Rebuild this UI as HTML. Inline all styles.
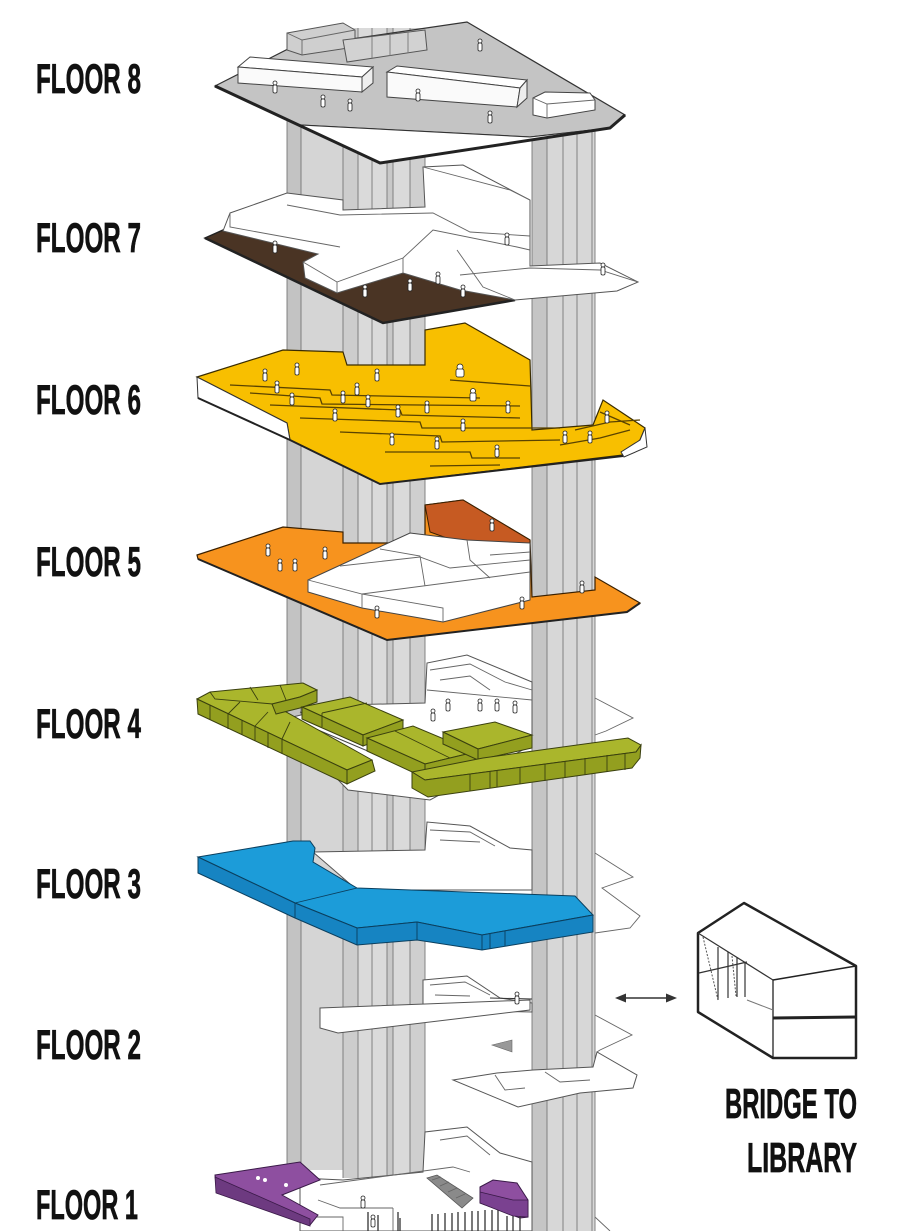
<!DOCTYPE html>
<html><head><meta charset="utf-8"><style>
html,body{margin:0;padding:0;background:#fff;}
svg{display:block}
.lbl{font-family:"Liberation Sans Narrow","Liberation Sans",sans-serif;font-weight:700;font-size:42px;fill:#111;stroke:#111;stroke-width:.7}
.p circle,.p rect{fill:#fff;stroke:#222;stroke-width:.8}
.ln{fill:none;stroke:#666;stroke-width:.9}
.pl{fill:#fff;stroke:#555;stroke-width:1}
.cl{stroke:#777;stroke-width:.9}
.yl{fill:none;stroke:#5a4300;stroke-width:1.3}
.gt{fill:#aab62c;stroke:#3a400f;stroke-width:1}
.gf{fill:#939f1f;stroke:#3a400f;stroke-width:1}
.gd{stroke:#3a400f;stroke-width:.9}
</style></head><body>
<svg width="899" height="1231" viewBox="0 0 899 1231" xmlns="http://www.w3.org/2000/svg">
<rect width="899" height="1231" fill="#fff"/>

<!-- back plates -->
<polyline class="ln" points="595,698 633,718 606,731 595,735"/>
<polyline class="ln" points="595,853 633,877 602,888 640,916 630,928 595,933"/>
<polyline class="ln" points="595,1015 632,1035 600,1050 597,1052"/>
<polyline class="ln" points="595,1217 610,1231"/>

<!-- columns -->
<rect x="287" y="118" width="56" height="1052" fill="#d5d5d5"/>
<rect x="287" y="118" width="14" height="1052" fill="#c3c3c3"/>
<line class="cl" x1="287" y1="118" x2="287" y2="1170"/>
<line class="cl" x1="301" y1="118" x2="301" y2="1170"/>
<rect x="343" y="28" width="82" height="1150" fill="#dadada"/>
<rect x="343" y="28" width="15" height="1150" fill="#cdcdcd"/>
<rect x="387" y="28" width="6" height="1150" fill="#c8c8c8"/>
<rect x="410" y="28" width="15" height="1150" fill="#cfcfcf"/>
<line class="cl" x1="343" y1="28" x2="343" y2="1178"/>
<line class="cl" x1="358" y1="28" x2="358" y2="1178"/>
<line class="cl" x1="372" y1="28" x2="372" y2="1178"/>
<line class="cl" x1="387" y1="28" x2="387" y2="1178"/>
<line class="cl" x1="393" y1="28" x2="393" y2="1178"/>
<line class="cl" x1="410" y1="28" x2="410" y2="1178"/>
<line class="cl" x1="425" y1="28" x2="425" y2="1178"/>
<rect x="532" y="125" width="63" height="1106" fill="#d7d7d7"/>
<rect x="532" y="125" width="15" height="1106" fill="#c5c5c5"/>
<line class="cl" x1="532" y1="125" x2="532" y2="1231"/>
<line class="cl" x1="547" y1="125" x2="547" y2="1231"/>
<line class="cl" x1="563" y1="125" x2="563" y2="1231"/>
<line class="cl" x1="577" y1="125" x2="577" y2="1231"/>
<line class="cl" x1="592" y1="125" x2="592" y2="1231"/>
<line class="cl" x1="595" y1="125" x2="595" y2="1231"/>

<!-- FLOOR 8 -->
<polygon points="215,86 290,48 467,22 625,115 610,128 530,137 300,125" fill="#c4c4c4" stroke="#333" stroke-width="1.2"/>
<polygon points="300,125 530,137 610,128 380,163" fill="#fff" stroke="#333" stroke-width="1"/>
<polyline points="215,86 380,163 610,128 625,115" fill="none" stroke="#222" stroke-width="3"/>
<polygon points="287,33 343,23 355,30 355,47 302,55 287,50" fill="#cfcfcf" stroke="#555"/>
<polyline class="ln" points="287,33 302,40 355,30"/><line class="ln" x1="302" y1="40" x2="302" y2="55"/>
<polygon points="343,40 425,30 427,50 347,62" fill="#d2d2d2" stroke="#555"/>
<line class="cl" x1="372" y1="37" x2="372" y2="58"/><line class="cl" x1="390" y1="35" x2="390" y2="56"/><line class="cl" x1="408" y1="32" x2="408" y2="53"/>
<polygon points="238,67 250,57 373,67 362,77" fill="#fff" stroke="#444"/>
<polygon points="238,67 362,77 362,92 238,83" fill="#fafafa" stroke="#444"/>
<polygon points="362,77 373,67 373,83 362,92" fill="#eee" stroke="#444"/>
<polygon points="387,72 397,66 527,80 520,88" fill="#fff" stroke="#444"/>
<polygon points="387,72 520,88 517,107 387,97" fill="#fafafa" stroke="#444"/>
<polygon points="520,88 527,80 527,98 517,107" fill="#eee" stroke="#444"/>
<polygon points="533,98 545,92 590,93 595,100 595,110 547,118 533,115" fill="#fff" stroke="#444"/>
<polyline class="ln" points="533,98 547,104 595,100"/><line class="ln" x1="547" y1="104" x2="547" y2="118"/>
<g class="p" transform="translate(275,92)"><circle cy="-9" r="2"/><rect x="-2" y="-7" width="4" height="8" rx="1.5"/></g>
<g class="p" transform="translate(323,106)"><circle cy="-9" r="2"/><rect x="-2" y="-7" width="4" height="8" rx="1.5"/></g>
<g class="p" transform="translate(350,110)"><circle cy="-9" r="2"/><rect x="-2" y="-7" width="4" height="8" rx="1.5"/></g>
<g class="p" transform="translate(418,100)"><circle cy="-9" r="2"/><rect x="-2" y="-7" width="4" height="8" rx="1.5"/></g>
<g class="p" transform="translate(490,122)"><circle cy="-9" r="2"/><rect x="-2" y="-7" width="4" height="8" rx="1.5"/></g>
<g class="p" transform="translate(480,50)"><circle cy="-9" r="2"/><rect x="-2" y="-7" width="4" height="8" rx="1.5"/></g>

<!-- FLOOR 7 -->
<polygon points="205,238 223,230 318,253 402,262 515,300 383,323" fill="#4a3424" stroke="#222" stroke-width="1.5"/>
<polyline points="205,238 383,323 515,300" fill="none" stroke="#222" stroke-width="2.5"/>
<polygon points="230,213 287,193 343,200 343,210 425,207 423,167 463,165 530,200 530,266 600,263 638,282 617,291 515,300 460,290 403,273 337,293 305,278 303,262 318,254 223,231" fill="#fff" stroke="#555" stroke-width="1"/>
<polyline class="ln" points="230,213 230,227 340,247"/>
<polyline class="ln" points="287,205 340,215 433,213 470,232 530,236"/>
<polyline class="ln" points="303,262 337,282 403,258 433,230 517,247 530,250"/>
<line class="ln" x1="337" y1="282" x2="337" y2="293"/>
<line class="ln" x1="403" y1="258" x2="403" y2="273"/>
<polyline class="ln" points="457,250 483,287 515,300"/>
<polyline class="ln" points="423,167 510,190 530,200"/>
<polyline class="ln" points="460,275 530,268 600,270 638,282"/>
<g class="p" transform="translate(275,252)"><circle cy="-9" r="2"/><rect x="-2" y="-7" width="4" height="8" rx="1.5"/></g>
<g class="p" transform="translate(365,296)"><circle cy="-9" r="2"/><rect x="-2" y="-7" width="4" height="8" rx="1.5"/></g>
<g class="p" transform="translate(410,290)"><circle cy="-9" r="2"/><rect x="-2" y="-7" width="4" height="8" rx="1.5"/></g>
<g class="p" transform="translate(438,283)"><circle cy="-9" r="2"/><rect x="-2" y="-7" width="4" height="8" rx="1.5"/></g>
<g class="p" transform="translate(463,296)"><circle cy="-9" r="2"/><rect x="-2" y="-7" width="4" height="8" rx="1.5"/></g>
<g class="p" transform="translate(507,244)"><circle cy="-9" r="2"/><rect x="-2" y="-7" width="4" height="8" rx="1.5"/></g>
<g class="p" transform="translate(603,274)"><circle cy="-9" r="2"/><rect x="-2" y="-7" width="4" height="8" rx="1.5"/></g>

<!-- FLOOR 6 -->
<polygon points="197,377 283,350 343,352 347,365 425,365 425,330 465,323 530,360 532,430 593,425 603,400 645,428 640,440 623,455 380,484 290,440 287,423" fill="#f8bf00" stroke="#3a2c00" stroke-width="1.2"/>
<polygon points="197,377 287,423 290,440 198,398" fill="#fff" stroke="#333" stroke-width="1"/>
<polygon points="645,428 647,447 624,457 621,452 640,440" fill="#fff" stroke="#333" stroke-width="1"/>
<polyline points="198,398 290,440 380,484 623,456" fill="none" stroke="#222" stroke-width="2"/>
<polyline class="yl" points="230,385 330,390 332,395 480,398"/>
<polyline class="yl" points="250,393 320,398 322,404 520,406"/>
<polyline class="yl" points="270,405 400,410 402,415 520,418"/>
<polyline class="yl" points="300,418 420,422 422,428 560,428"/>
<polyline class="yl" points="340,432 440,436 442,442 560,440"/>
<polyline class="yl" points="385,452 470,452 472,458 520,458"/>
<polyline class="yl" points="430,466 500,465"/>
<polyline class="yl" points="450,380 530,386"/>
<polyline class="yl" points="560,445 600,438 630,430"/>
<polyline class="yl" points="575,430 610,422 640,420"/>
<polyline class="yl" points="600,412 630,425"/>
<g class="p" transform="translate(265,380)"><circle cy="-9" r="2"/><rect x="-2" y="-7" width="4" height="8" rx="1.5"/></g>
<g class="p" transform="translate(277,392)"><circle cy="-9" r="2"/><rect x="-2" y="-7" width="4" height="8" rx="1.5"/></g>
<g class="p" transform="translate(297,374)"><circle cy="-9" r="2"/><rect x="-2" y="-7" width="4" height="8" rx="1.5"/></g>
<g class="p" transform="translate(292,404)"><circle cy="-9" r="2"/><rect x="-2" y="-7" width="4" height="8" rx="1.5"/></g>
<g class="p" transform="translate(335,420)"><circle cy="-9" r="2"/><rect x="-2" y="-7" width="4" height="8" rx="1.5"/></g>
<g class="p" transform="translate(357,394)"><circle cy="-9" r="2"/><rect x="-2" y="-7" width="4" height="8" rx="1.5"/></g>
<g class="p" transform="translate(368,406)"><circle cy="-9" r="2"/><rect x="-2" y="-7" width="4" height="8" rx="1.5"/></g>
<g class="p" transform="translate(343,402)"><circle cy="-9" r="2"/><rect x="-2" y="-7" width="4" height="8" rx="1.5"/></g>
<g class="p" transform="translate(377,380)"><circle cy="-9" r="2"/><rect x="-2" y="-7" width="4" height="8" rx="1.5"/></g>
<g class="p" transform="translate(398,416)"><circle cy="-9" r="2"/><rect x="-2" y="-7" width="4" height="8" rx="1.5"/></g>
<g class="p" transform="translate(427,412)"><circle cy="-9" r="2"/><rect x="-2" y="-7" width="4" height="8" rx="1.5"/></g>
<g class="p" transform="translate(460,376)"><circle cy="-9" r="3"/><rect x="-4" y="-7" width="8" height="8" rx="2"/></g>
<g class="p" transform="translate(473,400)"><circle cy="-9" r="2.5"/><rect x="-3" y="-7" width="6" height="8" rx="1.5"/></g>
<g class="p" transform="translate(463,430)"><circle cy="-9" r="2"/><rect x="-2" y="-7" width="4" height="8" rx="1.5"/></g>
<g class="p" transform="translate(392,444)"><circle cy="-9" r="2"/><rect x="-2" y="-7" width="4" height="8" rx="1.5"/></g>
<g class="p" transform="translate(437,448)"><circle cy="-9" r="2"/><rect x="-2" y="-7" width="4" height="8" rx="1.5"/></g>
<g class="p" transform="translate(497,456)"><circle cy="-9" r="2"/><rect x="-2" y="-7" width="4" height="8" rx="1.5"/></g>
<g class="p" transform="translate(508,412)"><circle cy="-9" r="2"/><rect x="-2" y="-7" width="4" height="8" rx="1.5"/></g>
<g class="p" transform="translate(565,442)"><circle cy="-9" r="2"/><rect x="-2" y="-7" width="4" height="8" rx="1.5"/></g>
<g class="p" transform="translate(590,442)"><circle cy="-9" r="2"/><rect x="-2" y="-7" width="4" height="8" rx="1.5"/></g>
<g class="p" transform="translate(607,422)"><circle cy="-9" r="2"/><rect x="-2" y="-7" width="4" height="8" rx="1.5"/></g>

<!-- FLOOR 5 -->
<polygon points="197,555 283,527 343,532 343,543 425,543 425,505 463,500 530,540 532,597 595,590 595,577 640,603 627,612 387,640 198,559" fill="#f7931e" stroke="#3a2000" stroke-width="1.2"/>
<polyline points="198,559 387,640 627,612 640,603" fill="none" stroke="#222" stroke-width="2"/>
<polygon points="425,505 463,500 530,540 530,546 500,557 430,532" fill="#c65a22" stroke="#3a2000" stroke-width="1"/>
<polygon points="308,580 410,533 467,540 530,543 530,600 443,622 362,608 308,592" fill="#fff" stroke="#444" stroke-width="1"/>
<polyline class="ln" points="308,580 362,594 530,572"/>
<line class="ln" x1="362" y1="594" x2="362" y2="608"/>
<polyline class="ln" points="362,594 443,608 443,622"/>
<polyline class="ln" points="340,566 420,557 450,568 530,560"/>
<polyline class="ln" points="380,549 420,556 425,586"/>
<polyline class="ln" points="467,540 470,560 490,578"/>
<polyline class="ln" points="490,555 530,552"/>
<g class="p" transform="translate(268,555)"><circle cy="-9" r="2"/><rect x="-2" y="-7" width="4" height="8" rx="1.5"/></g>
<g class="p" transform="translate(280,570)"><circle cy="-9" r="2"/><rect x="-2" y="-7" width="4" height="8" rx="1.5"/></g>
<g class="p" transform="translate(295,570)"><circle cy="-9" r="2"/><rect x="-2" y="-7" width="4" height="8" rx="1.5"/></g>
<g class="p" transform="translate(325,558)"><circle cy="-9" r="2"/><rect x="-2" y="-7" width="4" height="8" rx="1.5"/></g>
<g class="p" transform="translate(492,530)"><circle cy="-9" r="2"/><rect x="-2" y="-7" width="4" height="8" rx="1.5"/></g>
<g class="p" transform="translate(377,617)"><circle cy="-9" r="2"/><rect x="-2" y="-7" width="4" height="8" rx="1.5"/></g>
<g class="p" transform="translate(522,608)"><circle cy="-9" r="2"/><rect x="-2" y="-7" width="4" height="8" rx="1.5"/></g>
<g class="p" transform="translate(582,592)"><circle cy="-9" r="2"/><rect x="-2" y="-7" width="4" height="8" rx="1.5"/></g>

<!-- FLOOR 4 -->
<polygon class="pl" points="280,720 343,705 425,703 427,663 467,655 532,682 532,745 430,800 348,790"/>
<polyline class="ln" points="430,670 470,664 505,682 532,690"/>
<polyline class="ln" points="440,680 470,676 490,690"/>
<polyline class="ln" points="427,690 532,700"/>
<polyline points="285,716 370,752 395,760" fill="none" stroke="#444" stroke-width="1"/>
<polyline points="300,712 380,745" fill="none" stroke="#444" stroke-width="1"/>
<g class="p" transform="translate(433,720)"><circle cy="-9" r="2"/><rect x="-2" y="-7" width="4" height="8" rx="1.5"/></g>
<g class="p" transform="translate(448,710)"><circle cy="-9" r="2"/><rect x="-2" y="-7" width="4" height="8" rx="1.5"/></g>
<g class="p" transform="translate(480,710)"><circle cy="-9" r="2"/><rect x="-2" y="-7" width="4" height="8" rx="1.5"/></g>
<g class="p" transform="translate(497,710)"><circle cy="-9" r="2"/><rect x="-2" y="-7" width="4" height="8" rx="1.5"/></g>
<g class="p" transform="translate(515,712)"><circle cy="-9" r="2"/><rect x="-2" y="-7" width="4" height="8" rx="1.5"/></g>
<!-- green L -->
<polygon class="gt" points="197,699 210,692 303,683 317,690 300,697 272,704 372,760 347,770"/>
<polygon class="gf" points="272,704 300,697 317,690 317,702 300,708 276,714"/>
<polygon class="gf" points="197,699 347,770 347,784 198,714"/>
<polygon class="gf" points="347,770 372,760 375,771 347,784"/>
<polyline class="gd" points="210,692 215,699 273,704" fill="none"/>
<line class="gd" x1="250" y1="687" x2="258" y2="700"/>
<line class="gd" x1="280" y1="685" x2="286" y2="700"/>
<line class="gd" x1="210" y1="705" x2="210" y2="720"/>
<line class="gd" x1="228" y1="714" x2="228" y2="729"/>
<line class="gd" x1="242" y1="720" x2="242" y2="735"/>
<line class="gd" x1="255" y1="726" x2="255" y2="741"/>
<line class="gd" x1="268" y1="733" x2="268" y2="748"/>
<line class="gd" x1="282" y1="739" x2="282" y2="754"/>
<line class="gd" x1="228" y1="714" x2="240" y2="702"/>
<line class="gd" x1="255" y1="726" x2="268" y2="712"/>
<line class="gd" x1="282" y1="739" x2="290" y2="722"/>
<!-- center blocks -->
<polygon class="gt" points="302,707 350,697 403,720 363,735"/>
<polygon class="gf" points="302,707 363,735 363,746 302,719"/>
<polygon class="gf" points="363,735 403,720 403,731 363,746"/>
<line class="gd" x1="322" y1="713" x2="367" y2="703"/>
<line class="gd" x1="322" y1="713" x2="322" y2="727"/>
<polygon class="gt" points="367,738 413,726 475,752 425,764"/>
<polygon class="gf" points="367,738 425,764 425,778 367,751"/>
<polygon class="gf" points="425,764 475,752 475,765 425,778"/>
<line class="gd" x1="395" y1="731" x2="450" y2="758"/>
<polygon class="gt" points="443,732 495,722 532,735 478,749"/>
<polygon class="gf" points="443,732 478,749 478,760 443,744"/>
<polygon class="gf" points="478,749 532,735 532,748 478,760"/>
<!-- right bar -->
<polygon class="gt" points="412,772 483,758 628,738 641,745 636,752 425,780"/>
<polygon class="gf" points="412,772 425,780 636,752 641,745 640,758 632,768 428,797 412,788"/>
<line class="gd" x1="470" y1="774" x2="470" y2="791"/>
<line class="gd" x1="490" y1="771" x2="490" y2="788"/>
<line class="gd" x1="497" y1="770" x2="497" y2="787"/>
<line class="gd" x1="520" y1="767" x2="520" y2="784"/>
<line class="gd" x1="545" y1="764" x2="545" y2="781"/>
<line class="gd" x1="565" y1="761" x2="565" y2="778"/>
<line class="gd" x1="585" y1="758" x2="585" y2="775"/>
<line class="gd" x1="607" y1="755" x2="607" y2="772"/>
<line class="gd" x1="625" y1="753" x2="625" y2="770"/>

<!-- FLOOR 3 -->
<polygon class="pl" points="313,852 425,850 427,822 470,826 510,848 532,850 532,890 357,890"/>
<polyline class="ln" points="430,830 470,832 495,846"/>
<polyline class="ln" points="440,840 480,842"/>
<polygon points="198,857 293,841 310,841 315,848 313,862 357,888 575,896 593,915 482,935 417,922 357,928 295,903" fill="#1c9cd9" stroke="#0b3f5e" stroke-width="1"/>
<polygon points="198,857 295,903 357,928 417,922 482,935 593,915 593,932 482,950 417,940 357,945 295,918 198,873" fill="#1684c2" stroke="#0b3f5e" stroke-width="1"/>
<line x1="357" y1="888" x2="295" y2="903" stroke="#0b3f5e" stroke-width=".9"/>
<line x1="295" y1="903" x2="295" y2="918" stroke="#0b3f5e" stroke-width=".9"/>
<line x1="357" y1="928" x2="357" y2="945" stroke="#0b3f5e" stroke-width=".9"/>
<line x1="417" y1="922" x2="417" y2="940" stroke="#0b3f5e" stroke-width=".9"/>
<line x1="482" y1="935" x2="482" y2="950" stroke="#0b3f5e" stroke-width=".9"/>
<line x1="490" y1="934" x2="490" y2="949" stroke="#0b3f5e" stroke-width=".9"/>
<line x1="505" y1="931" x2="505" y2="946" stroke="#0b3f5e" stroke-width=".9"/>

<!-- FLOOR 2 -->
<polygon class="pl" points="423,980 467,976 500,998 532,1003 532,1012 423,1010"/>
<polyline class="ln" points="430,985 465,982 490,995"/>
<polyline class="ln" points="435,995 470,996"/>
<polygon class="pl" points="320,1008 425,1004 530,1000 530,1010 338,1033 320,1028"/>
<line x1="490" y1="998" x2="532" y2="999" stroke="#333" stroke-width="1"/>
<g class="p" transform="translate(517,1003)"><circle cy="-9" r="2"/><rect x="-2" y="-7" width="4" height="8" rx="1.5"/></g>
<polygon class="pl" points="453,1080 497,1073 533,1070 593,1067 597,1052 637,1075 633,1088 580,1093 518,1107"/>
<polyline class="ln" points="495,1075 505,1090 525,1088"/>
<polyline class="ln" points="545,1072 560,1082 590,1080"/>
<polygon points="492,1045 512,1040 512,1052" fill="#999" stroke="#666" stroke-width=".6"/>

<!-- FLOOR 1 -->
<polygon class="pl" points="300,1178 343,1180 423,1172 425,1132 467,1127 500,1153 532,1162 532,1231 300,1231"/>
<polyline class="ln" points="440,1140 467,1136 490,1155"/>
<polyline class="ln" points="320,1185 453,1167 470,1172"/>
<polyline class="ln" points="318,1200 340,1208 393,1208"/>
<polyline class="ln" points="310,1217 343,1217 343,1231"/>
<polyline class="ln" points="393,1208 393,1231"/>
<polygon points="427,1178 437,1175 473,1198 462,1208" fill="#8a8a8a" stroke="#555" stroke-width=".8"/>
<line class="ln" x1="432" y1="1180" x2="441" y2="1177"/><line class="ln" x1="440" y1="1186" x2="449" y2="1182"/><line class="ln" x1="448" y1="1192" x2="457" y2="1188"/><line class="ln" x1="456" y1="1198" x2="465" y2="1194"/>
<polygon points="215,1175 300,1162 320,1180 282,1195 318,1215 310,1225 217,1193" fill="#8e4fa0" stroke="#3a1a48" stroke-width="1"/>
<polygon points="215,1177 310,1219 310,1226 216,1193" fill="#6d3a80" stroke="#3a1a48" stroke-width=".8"/>
<circle cx="258" cy="1178" r="2" fill="#fff"/><circle cx="265" cy="1180" r="2" fill="#fff"/><circle cx="286" cy="1185" r="2" fill="#fff"/>
<polygon points="480,1187 493,1180 517,1183 528,1200 528,1217 520,1218 480,1203" fill="#8e4fa0" stroke="#3a1a48" stroke-width="1"/>
<polygon points="480,1192 513,1200 528,1200 528,1217 513,1216 480,1203" fill="#7a4190" stroke="#3a1a48" stroke-width=".8"/>
<g stroke="#333" stroke-width="1.3">
<line x1="432" y1="1214" x2="432" y2="1231"/><line x1="438" y1="1214" x2="438" y2="1231"/><line x1="445" y1="1213" x2="445" y2="1231"/><line x1="452" y1="1213" x2="452" y2="1231"/><line x1="458" y1="1212" x2="458" y2="1231"/><line x1="465" y1="1212" x2="465" y2="1231"/><line x1="472" y1="1211" x2="472" y2="1231"/><line x1="478" y1="1211" x2="478" y2="1231"/><line x1="485" y1="1210" x2="485" y2="1231"/><line x1="492" y1="1210" x2="492" y2="1231"/><line x1="498" y1="1210" x2="498" y2="1231"/><line x1="507" y1="1216" x2="507" y2="1231"/><line x1="513" y1="1216" x2="513" y2="1231"/><line x1="520" y1="1216" x2="520" y2="1231"/>
<line x1="368" y1="1212" x2="368" y2="1231"/><line x1="378" y1="1215" x2="378" y2="1231"/><line x1="398" y1="1212" x2="398" y2="1231"/><line x1="400" y1="1218" x2="400" y2="1231"/>
</g>
<g class="p" transform="translate(363,1207)"><circle cy="-9" r="2"/><rect x="-2" y="-7" width="4" height="8" rx="1.5"/></g>
<g class="p" transform="translate(373,1226)"><circle cy="-9" r="2"/><rect x="-2" y="-7" width="4" height="8" rx="1.5"/></g>

<!-- labels -->
<text class="lbl" x="36" y="93" textLength="105" lengthAdjust="spacingAndGlyphs">FLOOR 8</text>
<text class="lbl" x="36" y="252" textLength="105" lengthAdjust="spacingAndGlyphs">FLOOR 7</text>
<text class="lbl" x="36" y="414" textLength="105" lengthAdjust="spacingAndGlyphs">FLOOR 6</text>
<text class="lbl" x="36" y="576" textLength="105" lengthAdjust="spacingAndGlyphs">FLOOR 5</text>
<text class="lbl" x="36" y="738" textLength="105" lengthAdjust="spacingAndGlyphs">FLOOR 4</text>
<text class="lbl" x="36" y="898" textLength="105" lengthAdjust="spacingAndGlyphs">FLOOR 3</text>
<text class="lbl" x="36" y="1059" textLength="105" lengthAdjust="spacingAndGlyphs">FLOOR 2</text>
<text class="lbl" x="36" y="1219" textLength="102" lengthAdjust="spacingAndGlyphs">FLOOR 1</text>

<!-- bridge -->
<path d="M698,933 L744,903 L856,966 L856,1058 L773,1058 L698,1012 Z" fill="#fff" stroke="#222" stroke-width="2.5" stroke-linejoin="round"/>
<line x1="698" y1="933" x2="773" y2="980" stroke="#333" stroke-width="1.2"/>
<line x1="773" y1="980" x2="856" y2="966" stroke="#222" stroke-width="1.5"/>
<line x1="773" y1="980" x2="773" y2="1058" stroke="#222" stroke-width="1.3"/>
<line x1="773" y1="1018" x2="856" y2="1017" stroke="#222" stroke-width="3"/>
<line x1="718" y1="947" x2="718" y2="1000" stroke="#333" stroke-width="1.2"/>
<line x1="728" y1="952" x2="728" y2="998" stroke="#333" stroke-width="1.2"/>
<line x1="737" y1="957" x2="737" y2="997" stroke="#333" stroke-width="1.2"/>
<line x1="745" y1="962" x2="745" y2="997" stroke="#333" stroke-width="1.2"/>
<line x1="703" y1="937" x2="718" y2="1000" stroke="#555" stroke-width="1" stroke-dasharray="2,1.5"/>
<line x1="732" y1="956" x2="736" y2="996" stroke="#555" stroke-width="1" stroke-dasharray="2,1.5"/>
<line x1="699" y1="973" x2="747" y2="962" stroke="#333" stroke-width="1.2"/>
<line x1="747" y1="1000" x2="773" y2="1010" stroke="#777" stroke-width="1"/>
<line x1="623" y1="998" x2="669" y2="998" stroke="#333" stroke-width="1.5"/>
<polygon points="615,998 626,993.5 626,1002.5" fill="#333"/>
<polygon points="677,998 666,993.5 666,1002.5" fill="#333"/>
<text class="lbl" x="725" y="1118" textLength="132" lengthAdjust="spacingAndGlyphs">BRIDGE TO</text>
<text class="lbl" x="747" y="1172" textLength="110" lengthAdjust="spacingAndGlyphs">LIBRARY</text>
</svg>
</body></html>
